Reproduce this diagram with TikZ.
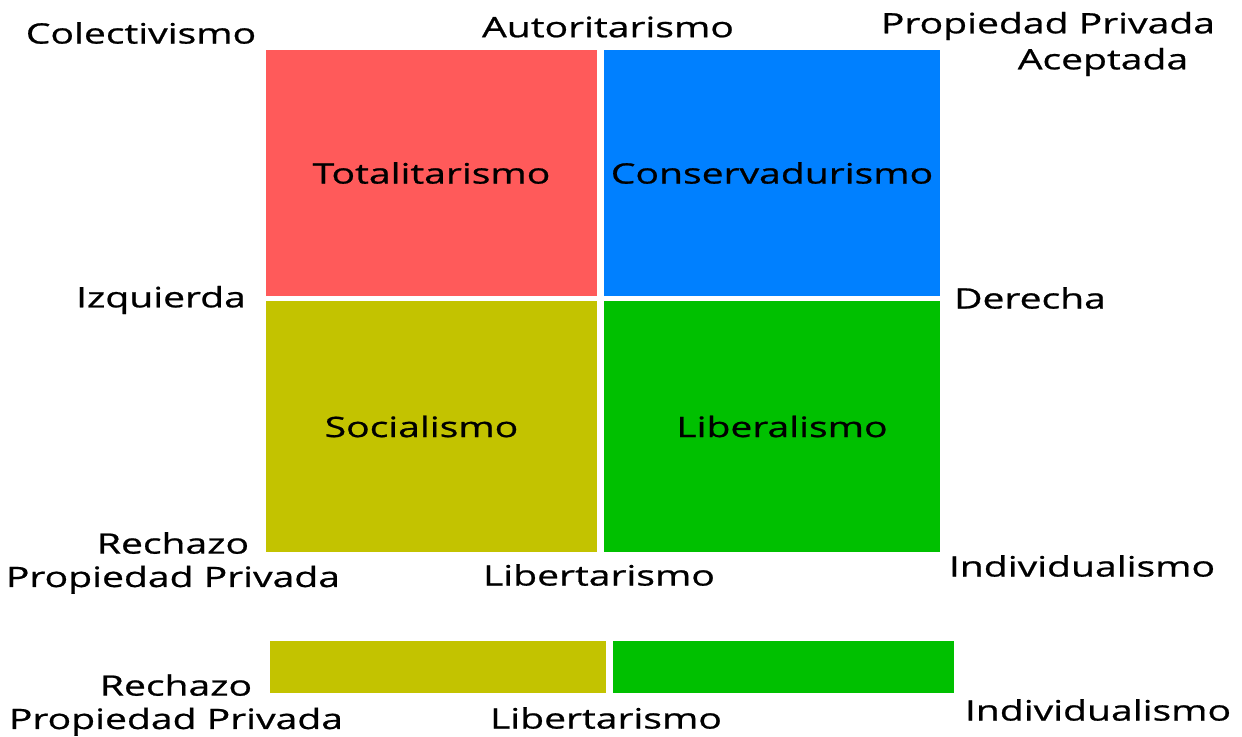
\documentclass[tikz,border=0pt]{standalone}
\usepackage{fontspec}
\setmainfont{Open Sans}[FakeStretch=1.39, FakeBold=0.8]
\usepackage{tikz}
\usetikzlibrary{positioning}
\definecolor{rojo}{HTML}{FF5A5A}
\definecolor{azul}{HTML}{0080FF}
\definecolor{oliva}{HTML}{C3C300}
\definecolor{verde}{HTML}{00C000}

\tikzset{
  cuadro/.style={rectangle, inner sep=0pt, draw=none, font=\fontsize{16}{19}\selectfont},
  etiqueta/.style={inner sep=0pt, align=center, font=\fontsize{16}{19}\selectfont}
}

\begin{document}
\begin{tikzpicture}[x=0.02cm, y=-0.02cm]
  \useasboundingbox (0,0) rectangle (1242,737);
  % cuadrantes
  \node[cuadro, fill=rojo, minimum width=6.62cm, minimum height=4.92cm] (tot) at (431.5,173) {Totalitarismo};
  \node[cuadro, fill=azul, minimum width=6.72cm, minimum height=4.92cm] (con) at (772,173) {Conservadurismo};
  \node[cuadro, fill=oliva, minimum width=6.62cm, minimum height=5.02cm] (soc) at (431.5,426.5) {\hspace*{-0.4cm}Socialismo};
  \node[cuadro, fill=verde, minimum width=6.72cm, minimum height=5.02cm] (lib) at (772,426.5) {\hspace*{0.4cm}Liberalismo};
  % franja de abajo
  \node[cuadro, fill=oliva, minimum width=6.72cm, minimum height=1.04cm] (socb) at (438,667) {};
  \node[cuadro, fill=verde, minimum width=6.82cm, minimum height=1.04cm] (libb) at (783.5,667) {};

  \node[etiqueta] (colec) at (141,33) {Colectivismo};
  \node[etiqueta] (auto) at (608,27) {Autoritarismo};
  \node[etiqueta] (ppa) at (1048,26) {Propiedad Privada};
  \node[etiqueta] (acep) at (1103,62) {Aceptada};
  \node[etiqueta] (izq) at (161,300) {Izquierda};
  \node[etiqueta] (der) at (1030,298) {Derecha};
  \node[etiqueta] (rech) at (173,563) {Rechazo\\Propiedad Privada};
  \node[etiqueta] (libt) at (599,575) {Libertarismo};
  \node[etiqueta] (ind) at (1082,566) {Individualismo};

  \node[etiqueta] (rechb) at (176,705) {Rechazo\\Propiedad Privada};
  \node[etiqueta] (libtb) at (606,718) {Libertarismo};
  \node[etiqueta] (indb) at (1098,710) {Individualismo};
\end{tikzpicture}
\end{document}
